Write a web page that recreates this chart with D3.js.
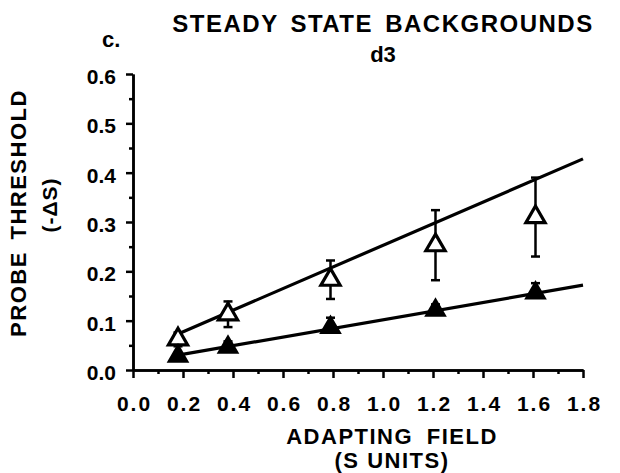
<!DOCTYPE html>
<html>
<head>
<meta charset="utf-8">
<script src="https://cdn.jsdelivr.net/npm/d3@7"></script>
<style>
  body { margin: 0; background: #fff; }
  svg { display: block; font-family: "Liberation Sans", Arial, Helvetica, sans-serif; font-weight: bold; }
  .axis path, .axis line { stroke: #000; stroke-width: 2.5; }
</style>
</head>
<body>
<div id="chart"></div>
<script>
// 数据
const fieldX = [0.18, 0.38, 0.79, 1.21, 1.61];
// 空心三角
const openY = [0.062, 0.113, 0.183, 0.253, 0.31];
const openErr = [0.014, 0.026, 0.039, 0.071, 0.08];
// 实心三角
const filledY = [0.028, 0.046, 0.086, 0.121, 0.156];
const filledErr = [0.006, 0.012, 0.02, 0.012, 0.02];
// 拟合直线端点
const openFit = [[0.18, 0.073], [1.8, 0.428]];
const filledFit = [[0.18, 0.03], [1.8, 0.172]];
const xTicks = [0.0, 0.2, 0.4, 0.6, 0.8, 1.0, 1.2, 1.4, 1.6, 1.8];
const yTicks = [0.0, 0.1, 0.2, 0.3, 0.4, 0.5, 0.6];

const width = 620, height = 473;
const svg = d3.select('#chart').append('svg')
    .attr('width', width)
    .attr('height', height);

const x = d3.scaleLinear().domain([0, 1.8]).range([133, 583]);
const y = d3.scaleLinear().domain([0, 0.6]).range([370, 74]);

// 次刻度
const xMinor = d3.range(0.1, 1.8, 0.2);
const yMinor = d3.range(0.05, 0.6, 0.1);

svg.append('g').attr('class', 'axis')
    .attr('transform', 'translate(0,370)')
    .call(d3.axisBottom(x).tickValues(xMinor).tickSize(4).tickFormat('').tickSizeOuter(0));
svg.append('g').attr('class', 'axis')
    .attr('transform', 'translate(0,370)')
    .call(d3.axisBottom(x).tickValues(xTicks).tickSize(8).tickSizeOuter(0).tickFormat(d3.format('.1f')))
    .call(g => g.selectAll('text')
        .attr('dy', 0).attr('y', 41).attr('dx', '1px')
        .style('font-size', '21px').style('letter-spacing', '2px').style('font-family', 'inherit'));

svg.append('g').attr('class', 'axis')
    .attr('transform', 'translate(133,0)')
    .call(d3.axisLeft(y).tickValues(yMinor).tickSize(4).tickFormat('').tickSizeOuter(0));
svg.append('g').attr('class', 'axis')
    .attr('transform', 'translate(133,0)')
    .call(d3.axisLeft(y).tickValues(yTicks).tickSize(7).tickSizeOuter(0).tickFormat(d3.format('.1f')))
    .call(g => g.selectAll('text')
        .attr('x', -17).attr('dy', '0.45em')
        .style('font-size', '21px')
        .style('font-family', '"Liberation Sans Narrow", "Liberation Sans", Arial, sans-serif'));

svg.selectAll('.axis text').attr('fill', '#000');

// 拟合线
const line = d3.line().x(d => x(d[0])).y(d => y(d[1]));
[openFit, filledFit].forEach(f => {
    svg.append('path')
        .attr('d', line(f))
        .attr('fill', 'none')
        .attr('stroke', '#000')
        .attr('stroke-width', 3.2);
});

// 误差棒
function drawErrors(ys, errs, upOnly) {
    fieldX.forEach((v, i) => {
        const cx = x(v);
        const top = y(ys[i] + errs[i]);
        const bot = upOnly ? y(ys[i]) : y(ys[i] - errs[i]);
        const g = svg.append('g').attr('stroke', '#000').attr('stroke-width', 2.5);
        g.append('line').attr('x1', cx).attr('x2', cx).attr('y1', top).attr('y2', bot);
        g.append('line').attr('x1', cx - 4.5).attr('x2', cx + 4.5).attr('y1', top).attr('y2', top);
        if (!upOnly) g.append('line').attr('x1', cx - 4.5).attr('x2', cx + 4.5).attr('y1', bot).attr('y2', bot);
    });
}
drawErrors(openY, openErr, false);
drawErrors(filledY, filledErr, true);

// 三角形
const tri = d3.symbol().type(d3.symbolTriangle).size(160);
svg.selectAll('.open')
    .data(fieldX.map((v, i) => [v, openY[i]]))
    .enter().append('path')
    .attr('class', 'open')
    .attr('transform', d => `translate(${x(d[0])},${y(d[1])})`)
    .attr('d', tri)
    .attr('fill', '#fff')
    .attr('stroke', '#000')
    .attr('stroke-width', 3.2);
svg.selectAll('.filled')
    .data(fieldX.map((v, i) => [v, filledY[i]]))
    .enter().append('path')
    .attr('class', 'filled')
    .attr('transform', d => `translate(${x(d[0])},${y(d[1])})`)
    .attr('d', tri)
    .attr('fill', '#000')
    .attr('stroke', '#000')
    .attr('stroke-width', 2);

// 标题与轴标签
svg.append('text').attr('x', 383).attr('y', 32).attr('text-anchor', 'middle')
    .style('font-size', '24px').style('letter-spacing', '1.5px').style('word-spacing', '4px')
    .text('STEADY STATE BACKGROUNDS');
svg.append('text').attr('x', 383).attr('y', 62).attr('text-anchor', 'middle')
    .style('font-size', '22px').text('d3');
svg.append('text').attr('x', 102).attr('y', 47)
    .style('font-size', '22px').text('c.');

svg.append('text').attr('x', 392).attr('y', 444).attr('text-anchor', 'middle')
    .style('font-size', '22px').style('letter-spacing', '1.5px').style('word-spacing', '6px')
    .text('ADAPTING FIELD');
svg.append('text').attr('x', 392).attr('y', 468).attr('text-anchor', 'middle')
    .style('font-size', '22px').style('letter-spacing', '1.5px')
    .text('(S UNITS)');

svg.append('text').attr('transform', 'translate(26,213) rotate(-90)').attr('text-anchor', 'middle')
    .style('font-size', '22px').style('letter-spacing', '1.5px').style('word-spacing', '4px')
    .text('PROBE THRESHOLD');
svg.append('text').attr('transform', 'translate(57,205) rotate(-90)').attr('text-anchor', 'middle')
    .style('font-size', '21px').style('letter-spacing', '1px')
    .text('(-ΔS)');
</script>
</body>
</html>
